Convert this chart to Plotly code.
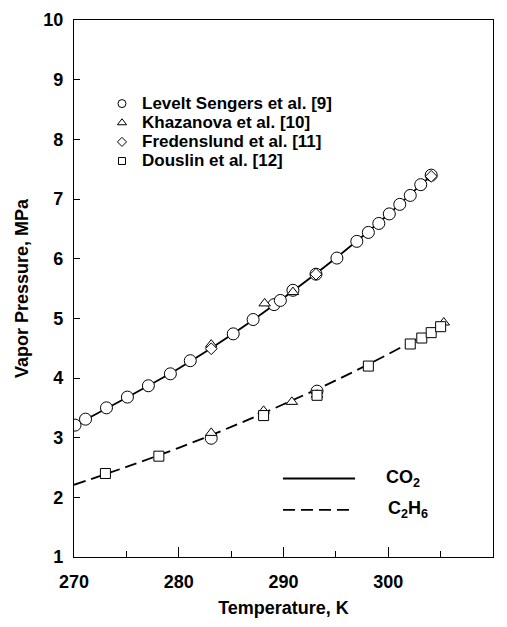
import plotly.graph_objects as go

# ---- data ----
co2_curve_T = [270, 275, 280, 285, 290, 295, 300, 302, 304.13]
co2_curve_P = [3.20, 3.67, 4.16, 4.72, 5.34, 6.01, 6.74, 7.06, 7.40]
c2h6_curve_T = [270, 275, 280, 285, 290, 295, 300, 303, 305.3]
c2h6_curve_P = [2.21, 2.51, 2.83, 3.18, 3.56, 3.96, 4.40, 4.68, 4.89]

levelt_T = [270.1, 271.1, 273.1, 275.1, 277.1, 279.2, 281.1, 285.2, 287.1, 289.1, 289.7,
            290.9, 293.1, 295.1, 297.0, 298.1, 299.1, 300.1, 301.1, 302.1, 303.1, 304.1,
            283.1, 293.2]
levelt_P = [3.21, 3.31, 3.50, 3.68, 3.87, 4.07, 4.29, 4.74, 4.98, 5.23, 5.30,
            5.47, 5.74, 6.01, 6.29, 6.44, 6.59, 6.75, 6.91, 7.06, 7.24, 7.40,
            2.99, 3.78]
khaz_T = [283.1, 288.2, 290.9, 283.1, 288.1, 290.8, 293.2, 305.3]
khaz_P = [4.56, 5.25, 5.44, 3.08, 3.45, 3.60, 3.72, 4.93]
fred_T = [283.1, 293.1, 304.1]
fred_P = [4.49, 5.74, 7.38]
dous_T = [273.0, 278.1, 288.1, 293.2, 298.1, 302.1, 303.2, 304.1, 305.0]
dous_P = [2.40, 2.69, 3.37, 3.71, 4.20, 4.57, 4.67, 4.76, 4.86]

legend_names = ["Levelt Sengers et al. [9]", "Khazanova et al. [10]",
                "Fredenslund et al. [11]", "Douslin et al. [12]"]
x_ticks = [270, 280, 290, 300, 310]
y_ticks = [1, 2, 3, 4, 5, 6, 7, 8, 9, 10]

FONT = "Liberation Sans, Arial, sans-serif"
fig = go.Figure()

fig.add_trace(go.Scatter(x=co2_curve_T, y=co2_curve_P, mode="lines",
                         line=dict(color="black", width=1.8, shape="spline"), showlegend=False))
fig.add_trace(go.Scatter(x=c2h6_curve_T, y=c2h6_curve_P, mode="lines",
                         line=dict(color="black", width=1.8, dash="12px,6px", shape="spline"),
                         showlegend=False))

def pts(T, P, sym, size):
    fig.add_trace(go.Scatter(x=T, y=P, mode="markers",
                             marker=dict(symbol=sym, size=size, color="white",
                                         line=dict(color="black", width=1)),
                             showlegend=False))

pts(levelt_T, levelt_P, "circle", 12)
pts(khaz_T, khaz_P, "triangle-up", 10)
pts(fred_T, fred_P, "diamond", 9)
pts(dous_T, dous_P, "square", 10)

# ---- custom legend (layout constants) ----
leg_x_marker = 274.58
leg_x_text = 276.3
leg_rows = [8.599, 8.278, 7.957, 7.637]
leg_syms = ["circle", "triangle-up", "diamond", "square"]
leg_sizes = [8, 8, 7, 7]
for name, yy, sym, sz in zip(legend_names, leg_rows, leg_syms, leg_sizes):
    fig.add_trace(go.Scatter(x=[leg_x_marker], y=[yy], mode="markers",
                             marker=dict(symbol=sym, size=sz, color="white",
                                         line=dict(color="black", width=1)),
                             showlegend=False))
    fig.add_annotation(x=leg_x_text, y=yy, text=name, showarrow=False, xanchor="left",
                       yanchor="middle", font=dict(family=FONT, size=17, color="black", weight="bold"))

fig.add_shape(type="line", x0=289.95, x1=296.83, y0=2.316, y1=2.316,
              line=dict(color="black", width=1.8))
fig.add_shape(type="line", x0=289.95, x1=296.83, y0=1.79, y1=1.79,
              line=dict(color="black", width=1.8, dash="12px,6px"))
fig.add_annotation(x=299.6, y=2.316, text="CO<sub>2</sub>", showarrow=False, xanchor="left",
                   yanchor="middle", font=dict(family=FONT, size=18, color="black", weight="bold"))
fig.add_annotation(x=299.8, y=1.79, text="C<sub>2</sub>H<sub>6</sub>", showarrow=False, xanchor="left",
                   yanchor="middle", font=dict(family=FONT, size=18, color="black", weight="bold"))

fig.update_layout(
    width=507, height=627,
    margin=dict(l=74, r=14, t=10, b=70),
    plot_bgcolor="white", paper_bgcolor="white",
    font=dict(family=FONT, color="black"),
    xaxis=dict(range=[270, 310], tickvals=x_ticks, ticks="inside", ticklen=10, tickwidth=1.2,
               tickcolor="black", showgrid=False, zeroline=False, showline=True, linecolor="black",
               linewidth=1.3, mirror=True, ticklabelstandoff=8,
               minor=dict(dtick=5, ticks="inside", ticklen=6, tickwidth=1.2, tickcolor="black", showgrid=False),
               tickfont=dict(family=FONT, size=18, weight="bold"),
               title=dict(text="Temperature, K", font=dict(family=FONT, size=18, weight="bold"), standoff=10)),
    yaxis=dict(range=[1, 10], tickvals=y_ticks, ticks="inside", ticklen=6, tickwidth=1.2,
               tickcolor="black", showgrid=False, zeroline=False, showline=True, linecolor="black",
               linewidth=1.3, mirror=True, ticklabelstandoff=6,
               tickfont=dict(family=FONT, size=18, weight="bold"),
               title=dict(text="Vapor Pressure, MPa", font=dict(family=FONT, size=18, weight="bold"), standoff=9)),
)

fig.write_html("out.html")
